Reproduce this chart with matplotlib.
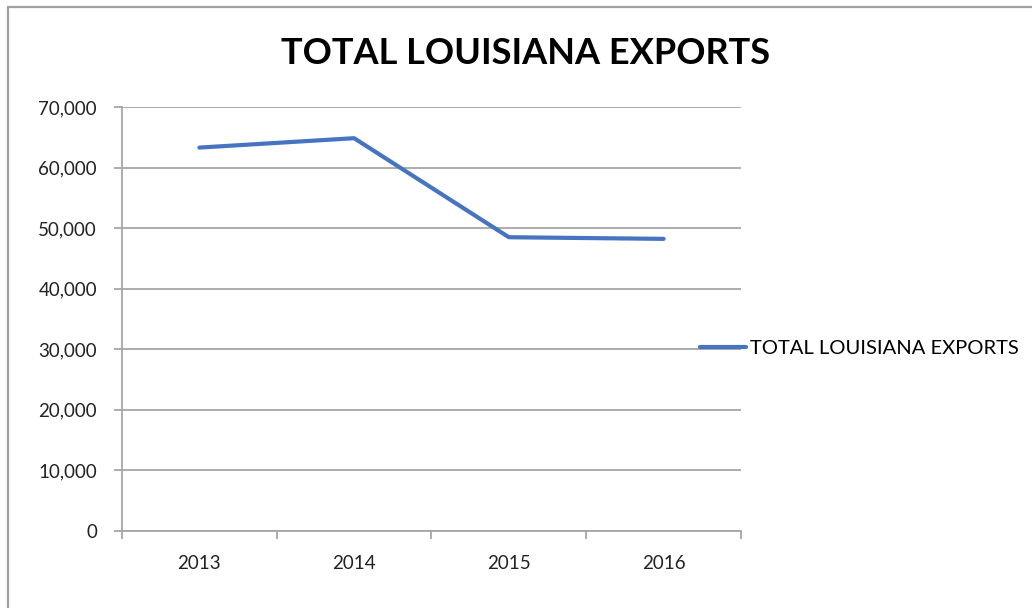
import matplotlib.pyplot as plt
from matplotlib.patches import Rectangle
from matplotlib.ticker import FuncFormatter

# Louisiana total exports by year (millions of dollars)
years = ["2013", "2014", "2015", "2016"]
exports = [63300, 64850, 48500, 48230]
y_ticks = [0, 10000, 20000, 30000, 40000, 50000, 60000, 70000]

series_name = "TOTAL LOUISIANA EXPORTS"
line_color = "#4674C1"
grid_color = "#A6A6A6"
font = "Lato"

fig = plt.figure(figsize=(10.32, 6.08), dpi=100)
fig.patch.set_facecolor("white")

# chart frame, open on the right and bottom
fig.patches.append(Rectangle((8 / 1032, -0.05), 1.1, 1 - 7 / 608 + 0.05,
                             transform=fig.transFigure, fill=False,
                             edgecolor="#A0A0A0", linewidth=1.6))

ax = fig.add_axes([122 / 1032, 1 - 531 / 608, (741 - 122) / 1032, (531 - 107) / 608])
x = range(len(years))
ax.plot(x, exports, color=line_color, linewidth=3, solid_capstyle="round",
        solid_joinstyle="round", label=series_name, zorder=3)

ax.set_xlim(-0.5, len(years) - 0.5)
ax.set_ylim(0, 70000)
ax.set_yticks(y_ticks)
ax.yaxis.set_major_formatter(FuncFormatter(lambda v, p: f"{int(v):,}"))
ax.set_xticks(x)
ax.set_xticklabels(years)
ax.set_xticks([i - 0.5 for i in range(len(years) + 1)], minor=True)

ax.grid(axis="y", color=grid_color, linewidth=1.3)
ax.set_axisbelow(True)
for s in ["top", "right"]:
    ax.spines[s].set_visible(False)
for s in ["left", "bottom"]:
    ax.spines[s].set_color(grid_color)
    ax.spines[s].set_linewidth(1.3)

ax.tick_params(axis="y", length=6, width=1.3, color=grid_color, pad=12,
               labelsize=13.5, labelcolor="#222222")
ax.tick_params(axis="x", which="major", length=0, pad=17,
               labelsize=13.5, labelcolor="#222222")
ax.tick_params(axis="x", which="minor", length=6, width=1.3, color=grid_color)
for lbl in ax.get_xticklabels() + ax.get_yticklabels():
    lbl.set_family(font)

fig.text(526 / 1032, 1 - 53 / 608, series_name, ha="center", va="center",
         fontsize=26, fontweight="bold", family=font, color="black")

ax.legend(loc="center left", bbox_to_anchor=(0.905, 0.43), frameon=False,
          handlelength=2.25, handletextpad=0.2,
          prop={"family": font, "size": 14.5})

fig.savefig("out.png", dpi=100, facecolor="white")
